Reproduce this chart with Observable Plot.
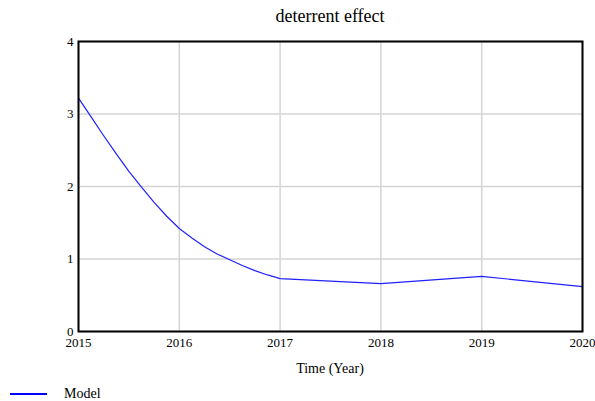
<!DOCTYPE html>
<html>
<head>
<meta charset="utf-8">
<script src="https://cdn.jsdelivr.net/npm/d3@7"></script>
<script src="https://cdn.jsdelivr.net/npm/@observablehq/plot@0.6"></script>
<style>
  html, body { margin: 0; padding: 0; background: #fff; }
  #wrap { position: relative; width: 595px; height: 401px; font-family: 'Liberation Serif', 'Times New Roman', Times, serif; color: #000; }
  #title { position: absolute; left: 0; width: 660px; top: 6px; text-align: center; font-size: 18px; }
  #xlabel { position: absolute; left: 0; width: 660px; top: 361px; text-align: center; font-size: 14px; }
  #legend { position: absolute; left: 10px; top: 386px; font-size: 14px; display: flex; align-items: center; }
  #legend .sw { width: 37px; height: 0; border-top: 2px solid #0000ff; margin-right: 17px; }
  svg { position: absolute; left: 0; top: 0; }
  svg text { font-family: 'Liberation Serif', 'Times New Roman', Times, serif; font-size: 13px; }
</style>
</head>
<body>
<div id="wrap">
  <div id="chart"></div>
  <div id="title">deterrent effect</div>
  <div id="xlabel">Time (Year)</div>
  <div id="legend"><span class="sw"></span><span>Model</span></div>
</div>
<script>
const seriesName = "Model";
const time = [2015, 2015.125, 2015.25, 2015.375, 2015.5, 2015.625, 2015.75, 2015.875, 2016, 2016.125, 2016.25, 2016.375, 2016.5, 2016.625, 2016.75, 2016.875, 2017, 2018, 2019, 2020];
const deterrent = [3.22, 2.96, 2.70, 2.45, 2.21, 1.99, 1.78, 1.59, 1.42, 1.29, 1.17, 1.07, 0.99, 0.91, 0.84, 0.78, 0.73, 0.66, 0.76, 0.62];
const xTicks = [2015, 2016, 2017, 2018, 2019, 2020];
const yTicks = [0, 1, 2, 3, 4];

const data = time.map((t, i) => ({t, v: deterrent[i]}));

const chart = Plot.plot({
  width: 595,
  height: 401,
  marginLeft: 78,
  marginRight: 13,
  marginTop: 41,
  marginBottom: 70,
  style: { fontFamily: "'Liberation Serif', 'Times New Roman', serif", fontSize: "13px", color: "#000", background: "transparent" },
  x: { domain: [2015, 2020], ticks: xTicks, tickFormat: d => String(d), tickSize: 0, tickPadding: 6, label: null },
  y: { domain: [0, 4], ticks: yTicks, tickFormat: d => String(d), tickSize: 0, tickPadding: 5, label: null },
  marks: [
    Plot.gridX(xTicks, { stroke: "#d4d4d4", strokeOpacity: 1, strokeWidth: 1.5 }),
    Plot.gridY(yTicks, { stroke: "#d4d4d4", strokeOpacity: 1, strokeWidth: 1.5 }),
    Plot.line(data, { x: "t", y: "v", stroke: "#2020ff", strokeWidth: 1.2, curve: "linear" }),
    Plot.frame({ stroke: "#000", strokeWidth: 2 })
  ]
});
document.getElementById("chart").appendChild(chart);
</script>
</body>
</html>
